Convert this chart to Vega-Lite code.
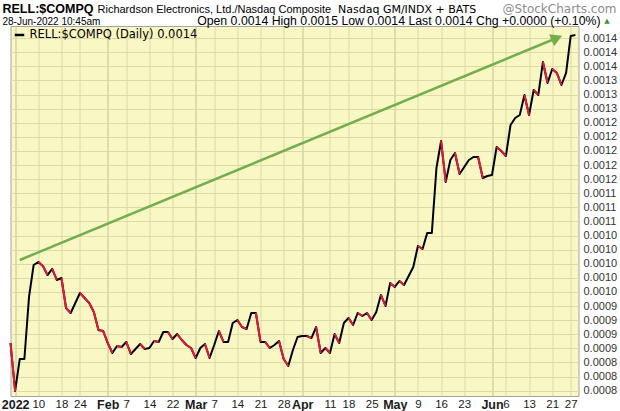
{
  "$schema": "https://vega.github.io/schema/vega-lite/v6.json",
  "width": 568,
  "height": 370,
  "autosize": {"type": "none"},
  "padding": {"left": 10.5, "top": 26, "right": 41.5, "bottom": 15},
  "background": "#FFFFFF",
  "config": {
    "view": {"fill": "#F9F7C4", "stroke": "#A3A3A3", "strokeWidth": 1},
    "font": "Liberation Sans"
  },
  "datasets": {
    "ratio": [
      {"d": "2021-12-31", "v": 0.0008606},
      {"d": "2022-01-03", "v": 0.0007755},
      {"d": "2022-01-04", "v": 0.0008322},
      {"d": "2022-01-05", "v": 0.0008322},
      {"d": "2022-01-06", "v": 0.0009421},
      {"d": "2022-01-07", "v": 0.0009989},
      {"d": "2022-01-10", "v": 0.0010042},
      {"d": "2022-01-11", "v": 0.0009971},
      {"d": "2022-01-12", "v": 0.0009811},
      {"d": "2022-01-13", "v": 0.0009918},
      {"d": "2022-01-14", "v": 0.0009723},
      {"d": "2022-01-18", "v": 0.0009758},
      {"d": "2022-01-19", "v": 0.0009226},
      {"d": "2022-01-20", "v": 0.0009138},
      {"d": "2022-01-21", "v": 0.0009315},
      {"d": "2022-01-24", "v": 0.0009492},
      {"d": "2022-01-25", "v": 0.0009404},
      {"d": "2022-01-26", "v": 0.0009315},
      {"d": "2022-01-27", "v": 0.0009155},
      {"d": "2022-01-28", "v": 0.0008836},
      {"d": "2022-01-31", "v": 0.0008819},
      {"d": "2022-02-01", "v": 0.0008606},
      {"d": "2022-02-02", "v": 0.0008428},
      {"d": "2022-02-03", "v": 0.0008553},
      {"d": "2022-02-04", "v": 0.0008535},
      {"d": "2022-02-07", "v": 0.0008624},
      {"d": "2022-02-08", "v": 0.0008411},
      {"d": "2022-02-09", "v": 0.0008499},
      {"d": "2022-02-10", "v": 0.0008588},
      {"d": "2022-02-11", "v": 0.0008499},
      {"d": "2022-02-14", "v": 0.0008517},
      {"d": "2022-02-15", "v": 0.0008641},
      {"d": "2022-02-16", "v": 0.0008624},
      {"d": "2022-02-17", "v": 0.0008801},
      {"d": "2022-02-18", "v": 0.0008801},
      {"d": "2022-02-22", "v": 0.0008677},
      {"d": "2022-02-23", "v": 0.0008765},
      {"d": "2022-02-24", "v": 0.0008659},
      {"d": "2022-02-25", "v": 0.0008570},
      {"d": "2022-02-28", "v": 0.0008517},
      {"d": "2022-03-01", "v": 0.0008340},
      {"d": "2022-03-02", "v": 0.0008517},
      {"d": "2022-03-03", "v": 0.0008588},
      {"d": "2022-03-04", "v": 0.0008340},
      {"d": "2022-03-07", "v": 0.0008570},
      {"d": "2022-03-08", "v": 0.0008819},
      {"d": "2022-03-09", "v": 0.0008624},
      {"d": "2022-03-10", "v": 0.0008624},
      {"d": "2022-03-11", "v": 0.0008960},
      {"d": "2022-03-14", "v": 0.0009014},
      {"d": "2022-03-15", "v": 0.0008889},
      {"d": "2022-03-16", "v": 0.0008854},
      {"d": "2022-03-17", "v": 0.0009138},
      {"d": "2022-03-18", "v": 0.0009138},
      {"d": "2022-03-21", "v": 0.0008624},
      {"d": "2022-03-22", "v": 0.0008624},
      {"d": "2022-03-23", "v": 0.0008517},
      {"d": "2022-03-24", "v": 0.0008570},
      {"d": "2022-03-25", "v": 0.0008641},
      {"d": "2022-03-28", "v": 0.0008322},
      {"d": "2022-03-29", "v": 0.0008198},
      {"d": "2022-03-30", "v": 0.0008482},
      {"d": "2022-03-31", "v": 0.0008712},
      {"d": "2022-04-01", "v": 0.0008730},
      {"d": "2022-04-04", "v": 0.0008730},
      {"d": "2022-04-05", "v": 0.0008694},
      {"d": "2022-04-06", "v": 0.0008889},
      {"d": "2022-04-07", "v": 0.0008428},
      {"d": "2022-04-08", "v": 0.0008517},
      {"d": "2022-04-11", "v": 0.0008428},
      {"d": "2022-04-12", "v": 0.0008765},
      {"d": "2022-04-13", "v": 0.0008606},
      {"d": "2022-04-14", "v": 0.0008960},
      {"d": "2022-04-18", "v": 0.0009049},
      {"d": "2022-04-19", "v": 0.0008925},
      {"d": "2022-04-20", "v": 0.0009138},
      {"d": "2022-04-21", "v": 0.0009084},
      {"d": "2022-04-22", "v": 0.0009138},
      {"d": "2022-04-25", "v": 0.0009014},
      {"d": "2022-04-26", "v": 0.0009155},
      {"d": "2022-04-27", "v": 0.0009457},
      {"d": "2022-04-28", "v": 0.0009262},
      {"d": "2022-04-29", "v": 0.0009670},
      {"d": "2022-05-02", "v": 0.0009599},
      {"d": "2022-05-03", "v": 0.0009705},
      {"d": "2022-05-04", "v": 0.0009634},
      {"d": "2022-05-05", "v": 0.0009794},
      {"d": "2022-05-06", "v": 0.0009953},
      {"d": "2022-05-09", "v": 0.0010326},
      {"d": "2022-05-10", "v": 0.0010272},
      {"d": "2022-05-11", "v": 0.0010556},
      {"d": "2022-05-12", "v": 0.0010556},
      {"d": "2022-05-13", "v": 0.0011709},
      {"d": "2022-05-16", "v": 0.0012187},
      {"d": "2022-05-17", "v": 0.0011460},
      {"d": "2022-05-18", "v": 0.0011850},
      {"d": "2022-05-19", "v": 0.0011974},
      {"d": "2022-05-20", "v": 0.0011602},
      {"d": "2022-05-23", "v": 0.0011726},
      {"d": "2022-05-24", "v": 0.0011850},
      {"d": "2022-05-25", "v": 0.0011904},
      {"d": "2022-05-26", "v": 0.0011904},
      {"d": "2022-05-27", "v": 0.0011531},
      {"d": "2022-05-31", "v": 0.0011567},
      {"d": "2022-06-01", "v": 0.0011584},
      {"d": "2022-06-02", "v": 0.0012081},
      {"d": "2022-06-03", "v": 0.0012010},
      {"d": "2022-06-06", "v": 0.0011921},
      {"d": "2022-06-07", "v": 0.0012471},
      {"d": "2022-06-08", "v": 0.0012595},
      {"d": "2022-06-09", "v": 0.0012648},
      {"d": "2022-06-10", "v": 0.0013003},
      {"d": "2022-06-13", "v": 0.0012648},
      {"d": "2022-06-14", "v": 0.0013091},
      {"d": "2022-06-15", "v": 0.0013003},
      {"d": "2022-06-16", "v": 0.0013588},
      {"d": "2022-06-17", "v": 0.0013216},
      {"d": "2022-06-21", "v": 0.0013464},
      {"d": "2022-06-22", "v": 0.0013393},
      {"d": "2022-06-23", "v": 0.0013180},
      {"d": "2022-06-24", "v": 0.0013393},
      {"d": "2022-06-27", "v": 0.0014049},
      {"d": "2022-06-28", "v": 0.0014067}
    ],
    "trend": [
      {"d1": "2022-01-04", "v1": 0.0010077, "d2": "2022-06-22", "v2": 0.0014013}
    ]
  },
  "resolve": {"axis": {"x": "independent", "y": "independent"}},
  "layer": [
    {
      "data": {"name": "ratio"},
      "mark": {"type": "line", "strokeWidth": 2, "strokeJoin": "round"},
      "encoding": {
        "x": {
          "field": "d",
          "type": "ordinal",
          "scale": {"type": "point", "padding": 0.34, "align": 0},
          "axis": {
            "orient": "bottom",
            "values": ["2022-01-03", "2022-01-10", "2022-01-18", "2022-01-24", "2022-02-01", "2022-02-07", "2022-02-14", "2022-02-22", "2022-03-01", "2022-03-07", "2022-03-14", "2022-03-21", "2022-03-28", "2022-04-01", "2022-04-11", "2022-04-18", "2022-04-25", "2022-05-02", "2022-05-09", "2022-05-16", "2022-05-23", "2022-06-01", "2022-06-06", "2022-06-13", "2022-06-21", "2022-06-27"],
            "labelExpr": "datum.value == '2022-01-03' ? '2022' : datum.value == '2022-02-01' ? 'Feb' : datum.value == '2022-03-01' ? 'Mar' : datum.value == '2022-04-01' ? 'Apr' : datum.value == '2022-05-02' ? 'May' : datum.value == '2022-06-01' ? 'Jun' : '' + toNumber(substring(datum.value, 8, 10))",
            "labelAngle": 0,
            "labelOverlap": false,
            "labelFont": "Liberation Sans",
            "labelFontSize": {"condition": {"test": "indexof(['2022-01-03','2022-02-01','2022-03-01','2022-04-01','2022-05-02','2022-06-01'], datum.value) >= 0", "value": 12.5}, "value": 11.5},
            "labelFontWeight": {"condition": {"test": "indexof(['2022-01-03','2022-02-01','2022-03-01','2022-04-01','2022-05-02','2022-06-01'], datum.value) >= 0", "value": "bold"}, "value": "normal"},
            "labelColor": "#1A1A1A",
            "labelPadding": 2,
            "labelBaseline": "top",
            "ticks": false,
            "domain": false,
            "grid": true,
            "gridColor": {"condition": {"test": "indexof(['2022-01-03','2022-02-01','2022-03-01','2022-04-01','2022-05-02','2022-06-01'], datum.value) >= 0", "value": "#C4C48E"}, "value": "#DCDBA8"},
            "gridWidth": 1,
            "title": "RELL:$COMPQ",
            "titleFont": "Liberation Sans",
            "titleFontSize": 12.5,
            "titleFontWeight": "bold",
            "titleColor": "#000000",
            "titleAngle": 0,
            "titleAlign": "left",
            "titleBaseline": "alphabetic",
            "titleX": -8.5,
            "titleY": -384,
            "titleLimit": 1000
          }
        },
        "y": {
          "field": "v",
          "type": "quantitative",
          "scale": {"domain": [0.0007666, 0.0014226], "zero": false, "nice": false},
          "axis": {
            "orient": "right",
            "values": [0.000776, 0.000801, 0.000826, 0.000851, 0.000876, 0.000901, 0.000926, 0.000951, 0.000976, 0.001001, 0.001026, 0.001051, 0.001076, 0.001101, 0.001126, 0.001151, 0.001176, 0.001201, 0.001226, 0.001251, 0.001276, 0.001301, 0.001326, 0.001351, 0.001376, 0.001401],
            "labelExpr": "['0.0008','0.0008','0.0008','0.0009','0.0009','0.0009','0.0009','0.0010','0.0010','0.0010','0.0010','0.0010','0.0011','0.0011','0.0011','0.0012','0.0012','0.0012','0.0012','0.0012','0.0013','0.0013','0.0013','0.0014','0.0014','0.0014'][round((datum.value - 0.000776) / 0.000025)]",
            "labelFont": "Liberation Sans",
            "labelFontSize": 11,
            "labelColor": "#333333",
            "labelPadding": 4.5,
            "labelOverlap": false,
            "ticks": false,
            "domain": false,
            "grid": true,
            "gridColor": "#DCDBA8",
            "gridWidth": 1,
            "title": "Open 0.0014 High 0.0015 Low 0.0014 Last 0.0014 Chg +0.0000 (+0.10%)",
            "titleFont": "Liberation Sans",
            "titleFontSize": 12.3,
            "titleFontWeight": "normal",
            "titleColor": "#000000",
            "titleAngle": 0,
            "titleAlign": "right",
            "titleBaseline": "alphabetic",
            "titleX": 21.5,
            "titleY": -1.2,
            "titleLimit": 1000
          }
        },
        "color": {
          "datum": "RELL:$COMPQ (Daily) 0.0014",
          "scale": {"range": ["#000000"]},
          "legend": {
            "title": null,
            "orient": "top-left",
            "offset": 3,
            "padding": 0,
            "symbolType": "stroke",
            "symbolSize": 90,
            "symbolStrokeWidth": 2.5,
            "labelFont": "DejaVu Sans",
            "labelFontSize": 11.5,
            "labelColor": "#000000",
            "labelOffset": 4,
            "labelLimit": 400
          }
        }
      }
    },
    {
      "data": {"name": "ratio"},
      "transform": [
        {"window": [{"op": "lag", "field": "v", "as": "pv"}, {"op": "lag", "field": "d", "as": "pd"}], "sort": [{"field": "d", "order": "ascending"}]},
        {"filter": "datum.pd != null && datum.v < datum.pv"}
      ],
      "mark": {"type": "rule", "color": "#E0193F", "strokeWidth": 2},
      "encoding": {
        "x": {
          "field": "pd",
          "type": "ordinal",
          "axis": {
            "orient": "top", "labels": false, "ticks": false, "domain": false, "grid": false,
            "title": "Richardson Electronics, Ltd./Nasdaq Composite",
            "titleFont": "Liberation Sans", "titleFontSize": 11, "titleFontWeight": "normal", "titleColor": "#000000",
            "titleAngle": 0, "titleAlign": "left", "titleBaseline": "alphabetic",
            "titleX": 86.5, "titleY": -14, "titleLimit": 1000
          }
        },
        "x2": {"field": "d"},
        "y": {
          "field": "pv",
          "type": "quantitative",
          "axis": {
            "orient": "left", "labels": false, "ticks": false, "domain": false, "grid": false,
            "title": "28-Jun-2022 10:45am",
            "titleFont": "Liberation Sans", "titleFontSize": 10, "titleFontWeight": "normal", "titleColor": "#000000",
            "titleAngle": 0, "titleAlign": "left", "titleBaseline": "alphabetic",
            "titleX": -8.5, "titleY": -1.2, "titleLimit": 1000
          }
        },
        "y2": {"field": "v"}
      }
    },
    {
      "data": {"name": "trend"},
      "mark": {"type": "rule", "color": "#72AE4C", "strokeWidth": 2.5},
      "encoding": {
        "x": {
          "field": "d1",
          "type": "ordinal",
          "axis": {
            "orient": "top", "labels": false, "ticks": false, "domain": false, "grid": false,
            "title": "Nasdaq GM/INDX + BATS",
            "titleFont": "DejaVu Sans", "titleFontSize": 11, "titleFontWeight": "normal", "titleColor": "#000000",
            "titleAngle": 0, "titleAlign": "left", "titleBaseline": "alphabetic",
            "titleX": 327, "titleY": -14, "titleLimit": 1000
          }
        },
        "x2": {"field": "d2"},
        "y": {
          "field": "v1",
          "type": "quantitative",
          "axis": {
            "orient": "right", "labels": false, "ticks": false, "domain": false, "grid": false,
            "title": "@StockCharts.com",
            "titleFont": "DejaVu Sans", "titleFontSize": 12, "titleFontWeight": "normal", "titleColor": "#8C8C8C",
            "titleAngle": 0, "titleAlign": "right", "titleBaseline": "alphabetic",
            "titleX": 37.5, "titleY": -14, "titleLimit": 1000
          }
        },
        "y2": {"field": "v2"}
      }
    },
    {
      "data": {"name": "trend"},
      "mark": {"type": "point", "shape": "triangle-right", "filled": true, "color": "#72AE4C", "size": 170, "angle": 337.6, "opacity": 1},
      "encoding": {
        "x": {"field": "d2", "type": "ordinal", "axis": null},
        "y": {
          "field": "v2",
          "type": "quantitative",
          "axis": {
            "orient": "right", "labels": false, "ticks": false, "domain": false, "grid": false,
            "title": "▲",
            "titleFont": "DejaVu Sans", "titleFontSize": 7, "titleFontWeight": "normal", "titleColor": "#3A9A3A",
            "titleAngle": 0, "titleAlign": "center", "titleBaseline": "alphabetic",
            "titleX": 28, "titleY": -3.5, "titleLimit": 1000
          }
        }
      }
    }
  ]
}
